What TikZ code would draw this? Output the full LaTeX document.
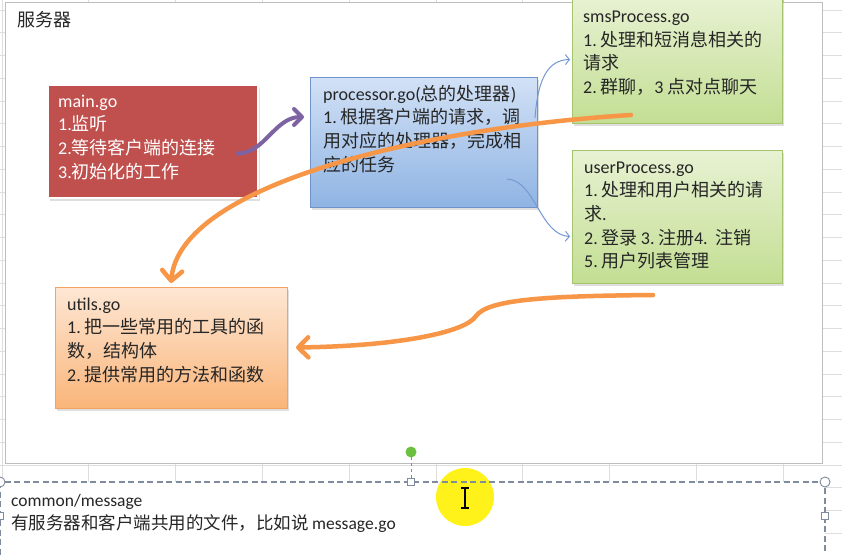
\documentclass[tikz,border=0pt]{standalone}
\usepackage{fontspec}
\setmainfont{Carlito}
\newfontfamily\zhfont{Noto Sans CJK SC}
\newcommand\zhtxt[1]{{\zhfont #1}}
\newcommand\gp{\hspace{3.5pt}}
\usetikzlibrary{arrows.meta,shadows}
\definecolor{gridc}{HTML}{DDDDDD}
\definecolor{framec}{HTML}{BDBDBD}
\definecolor{mainred}{HTML}{C0504D}
\definecolor{projtop}{HTML}{D2E1F6}
\definecolor{projbot}{HTML}{8FB4E3}
\definecolor{projbd}{HTML}{6F93C9}
\definecolor{grtop}{HTML}{E8F2D3}
\definecolor{grbot}{HTML}{C3DE93}
\definecolor{grbd}{HTML}{A6C46E}
\definecolor{ortop}{HTML}{FDE7D4}
\definecolor{orbot}{HTML}{FAB57A}
\definecolor{orbd}{HTML}{F2A263}
\definecolor{arrowor}{HTML}{F79646}
\definecolor{arrowpu}{HTML}{7E63A3}
\definecolor{arrowbl}{HTML}{7499D2}
\definecolor{txtc}{HTML}{262626}
\definecolor{handlec}{HTML}{7F8C9E}
\definecolor{hiyellow}{HTML}{FFF21A}
\definecolor{rotgreen}{HTML}{6CC040}
\tikzset{
  box/.style={anchor=north west, inner sep=0pt, outer sep=0pt, line width=0.8pt,
    drop shadow={shadow xshift=2pt,shadow yshift=-2.5pt,opacity=0.25}},
  boxtext/.style={anchor=base west, inner sep=0pt, text width=#1, align=left, text=txtc,
    font={\fontsize{18}{23.7}\selectfont}},
  orarrow/.style={draw=arrowor, line width=4.5pt, line cap=round,
    -{Straight Barb[length=10pt,width=20pt,round]}},
  puarrow/.style={draw=arrowpu, line width=4pt, line cap=round,
    -{Straight Barb[length=8pt,width=16pt,round]}},
  blarrow/.style={draw=arrowbl, line width=1pt,
    -{Straight Barb[length=4pt,width=10pt]}},
  handle/.style={draw=handlec, fill=white, line width=0.9pt},
}
\begin{document}
\begin{tikzpicture}[x=1pt,y=-1pt]
\useasboundingbox (0,0) rectangle (842,554);
\clip (0,0) rectangle (842,554);
\fill[white] (0,0) rectangle (842,554);
% spreadsheet grid
\foreach \k in {0,...,24} \draw[gridc, line width=0.8pt] (0,{10+22.75*\k}) -- (842,{10+22.75*\k});
\foreach \k in {0,...,9} \draw[gridc, line width=0.8pt] ({2+86.8*\k},0) -- ({2+86.8*\k},554);
% server frame
\fill[white] (5,2) rectangle (822,463);
\draw[framec, line width=1pt] (5,2) rectangle (822,463);
\node[anchor=base west, inner sep=0pt, text=txtc, font={\fontsize{18}{22}\selectfont}] (srv) at (17,26) {\zhtxt{服务器}};

% boxes
\node[box, fill=mainred, draw=white, line width=2.5pt, minimum width=210pt, minimum height=113pt] (main) at (48,85) {};
\node[box, top color=projtop, bottom color=projbot, draw=projbd, minimum width=227pt, minimum height=130pt] (proc) at (310,77) {};
\node[box, top color=grtop, bottom color=grbot, draw=grbd, minimum width=210pt, minimum height=127pt] (sms) at (572,-4) {};
\node[box, top color=grtop, bottom color=grbot, draw=grbd, minimum width=210pt, minimum height=133pt] (user) at (572,150) {};
\node[box, top color=ortop, bottom color=orbot, draw=orbd, minimum width=232pt, minimum height=121pt] (utils) at (55,287) {};

% box texts
\node[boxtext=200pt, text=white] (maintxt) at (58,107)
  {main.go\\1.\zhtxt{监听}\\2.\zhtxt{等待客户端的连接}\\3.\zhtxt{初始化的工作}};
\node[boxtext=215pt] (proctxt) at (323,100)
  {processor.go(\zhtxt{总的处理器})\\1.\gp\zhtxt{根据客户端的请求，调}\\\zhtxt{用对应的处理器，完成相}\\\zhtxt{应的任务}};
\node[boxtext=200pt] (smstxt) at (583,22.5)
  {smsProcess.go\\1.\gp\zhtxt{处理和短消息相关的}\\\zhtxt{请求}\\2.\gp\zhtxt{群聊，}3\gp\zhtxt{点对点聊天}};
\node[boxtext=200pt] (usertxt) at (584,173)
  {userProcess.go\\1.\gp\zhtxt{处理和用户相关的请}\\\zhtxt{求}.\\2.\gp\zhtxt{登录}\gp3.\gp\zhtxt{注册}4.\hspace{8pt}\zhtxt{注销}\\5.\gp\zhtxt{用户列表管理}};
\node[boxtext=225pt] (utilstxt) at (67,310)
  {utils.go\\1.\gp\zhtxt{把一些常用的工具的函}\\\zhtxt{数，结构体}\\2.\gp\zhtxt{提供常用的方法和函数}};

% connectors
\draw[puarrow] ([xshift=-20pt,yshift=-12pt]main.east) .. controls (265,153) and (275,117) .. ([xshift=-6pt,yshift=25pt]proc.west);
\draw[blarrow] ([xshift=-2pt,yshift=24pt]proc.east) .. controls (538,75) and (550,60) .. ([xshift=-2pt]sms.west);
\draw[blarrow] ([xshift=-30pt,yshift=28pt]proc.south east) .. controls (535,180) and (540,235) .. ([xshift=-2pt,yshift=-20pt]user.west);
\draw[orarrow] ([xshift=-46pt,yshift=8pt]sms.south) .. controls (420,128) and (180,185) .. ([yshift=4pt]utils.north);
\draw[orarrow] ([xshift=-24pt,yshift=-12pt]user.south) .. controls (540,296) and (488,300) .. (476,316)
   .. controls (466,332) and (400,346) .. ([xshift=9pt]utils.east);

% bottom text box (selected)
\fill[white] (0,482) rectangle (825,560);
\fill[hiyellow] (465,497) circle (29);
\draw[handlec, line width=1.2pt, dash pattern=on 6pt off 3.5pt] (0,482) rectangle (825,560);
\draw[handlec, line width=0.9pt, dash pattern=on 3pt off 3pt] (411,457) -- (411,478);
\fill[rotgreen] (411,452) circle (5.5);
\draw[handle] (0,482) circle (5);
\draw[handle] (825,482) circle (5);
\draw[handle] (407.5,478.5) rectangle (414.5,485.5);
\draw[handle] (821.5,512.5) rectangle (828.5,519.5);
\draw[handle] (-3.5,512.5) rectangle (3.5,519.5);
% I-beam cursor
\draw[black, line width=1.2pt] (465,488) -- (465,508) (461,488) -- (469,488) (461,508) -- (469,508);
\node[anchor=base west, inner sep=0pt, text width=420pt, align=left, text=txtc,
  font={\fontsize{17.5}{23.7}\selectfont}] (msgtxt) at (11,506)
  {common/message\\\zhtxt{有服务器和客户端共用的文件，比如说}\gp message.go};
\end{tikzpicture}
\end{document}
